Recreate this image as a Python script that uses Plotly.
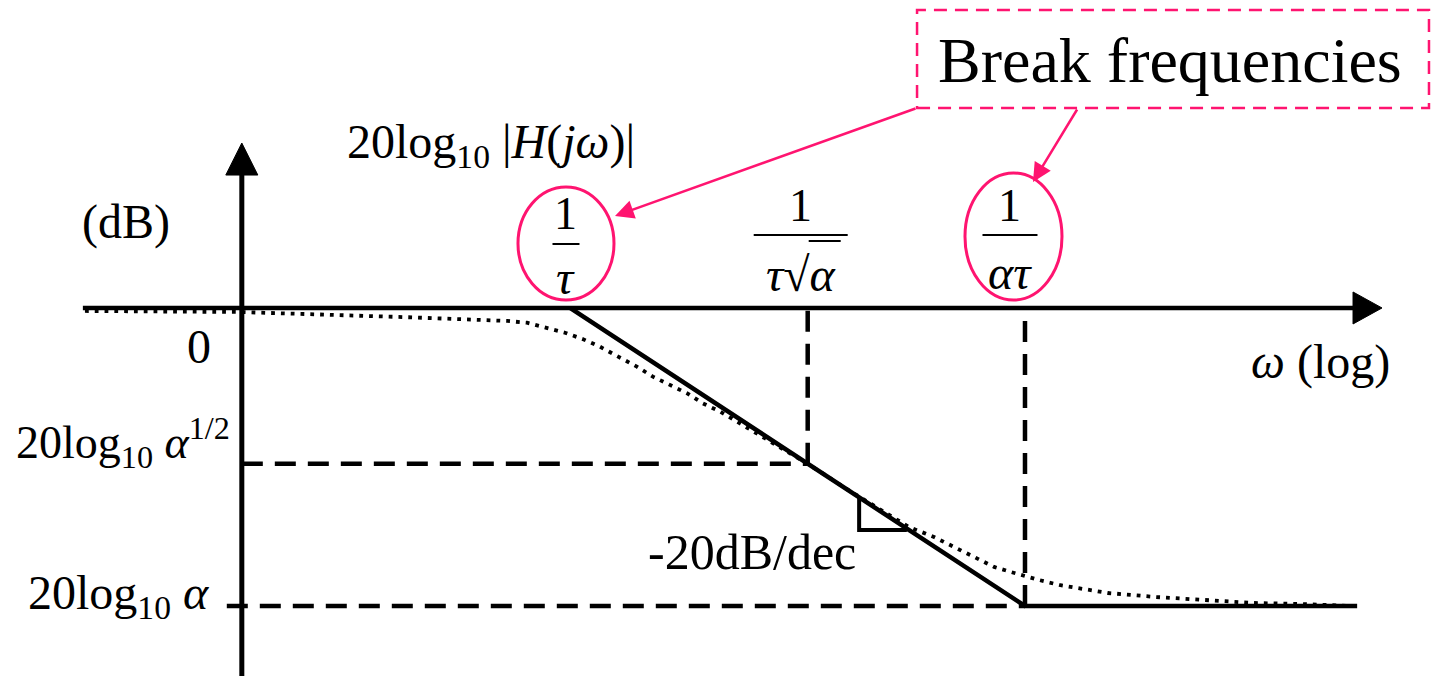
import numpy as np
import plotly.graph_objects as go

# ---------------- data (ω normalised so that 1/τ = 1) ----------------
# break frequencies 1/τ, 1/(τ√α), 1/(ατ) and the asymptote level at each
break_omega = [1.0, 3.33, 10.0]
break_db = [0.0, -10.45, -20.0]
break_labels = ["<i>τ</i>", "<i>τ</i>√<i>α</i>", "<i>ατ</i>"]

# straight-line (asymptotic) magnitude
asym_omega = [1.0, 10.0, 53.7]
asym_db = [0.0, -20.0, -20.0]

# actual magnitude response
curve_omega = [0.0859, 0.188, 0.438, 0.537, 0.644, 0.728, 0.804, 0.889, 0.975,
               1.069, 1.164, 1.268, 1.403, 1.521, 1.660, 1.807, 1.959, 2.138,
               2.328, 2.754, 3.334, 4.121, 5.559, 6.310, 6.982, 7.568, 8.551,
               9.311, 9.795, 10.74, 11.89, 13.40, 15.21, 17.18, 19.41, 24.89,
               31.70, 40.64, 52.00]
curve_db = [-0.20, -0.27, -0.62, -0.72, -0.81, -0.87, -0.99, -1.32, -1.66,
            -2.10, -2.60, -3.22, -3.94, -4.61, -5.17, -5.72, -6.40, -6.96,
            -7.63, -8.93, -10.47, -12.28, -14.70, -15.37, -16.04, -16.58, -17.38,
            -17.72, -17.92, -18.26, -18.59, -18.86, -19.13, -19.26, -19.40, -19.60,
            -19.80, -19.87, -20.00]

# -20 dB/dec slope marker
slope_omega = [4.32, 4.32, 5.50]
slope_db = [-12.70, -14.90, -14.90]

# axis extents
xaxis_start_omega = 0.085
xaxis_tip_omega = 60.9
yaxis_omega = 0.19
yaxis_tip_db = 11.07

# ---------------- styling ----------------
FONT = "Liberation Serif, Times New Roman, serif"
PINK = "#FF1470"
BLACK = "black"
X_RANGE = [-1.2527, 1.8989]   # log10(ω)
Y_RANGE = [-24.70, 20.67]     # dB
DASH = "21px,12px"

lg = np.log10
ux = float(lg(yaxis_omega))

fig = go.Figure()

# asymptote
fig.add_trace(go.Scatter(x=lg(asym_omega), y=asym_db, mode="lines",
                         line=dict(color=BLACK, width=4.5), hoverinfo="skip"))
# actual response (dotted)
fig.add_trace(go.Scatter(x=lg(curve_omega), y=curve_db, mode="lines",
                         line=dict(color=BLACK, width=3.8, dash="3.8px,6px"),
                         hoverinfo="skip"))
# slope marker
fig.add_trace(go.Scatter(x=lg(slope_omega), y=slope_db, mode="lines",
                         line=dict(color=BLACK, width=4), hoverinfo="skip"))

shapes = []

# frequency axis with arrow head
xt = float(lg(xaxis_tip_omega))
shapes.append(dict(type="line", x0=float(lg(xaxis_start_omega)), x1=xt - 0.05,
                   y0=0, y1=0, line=dict(color=BLACK, width=4.5)))
shapes.append(dict(type="path",
                   path=f"M {xt},0 L {xt - 0.0637},1.074 L {xt - 0.0637},-1.074 Z",
                   fillcolor=BLACK, line=dict(color=BLACK, width=1)))
# magnitude axis with arrow head
shapes.append(dict(type="line", x0=ux, x1=ux, y0=Y_RANGE[0], y1=yaxis_tip_db - 1.9,
                   line=dict(color=BLACK, width=5)))
shapes.append(dict(type="path",
                   path=f"M {ux},{yaxis_tip_db} L {ux - 0.0352},{yaxis_tip_db - 2.148} "
                        f"L {ux + 0.0352},{yaxis_tip_db - 2.148} Z",
                   fillcolor=BLACK, line=dict(color=BLACK, width=1)))

# dashed guides
um, ub = float(lg(break_omega[1])), float(lg(break_omega[2]))
shapes.append(dict(type="line", x0=ux, x1=um, y0=break_db[1], y1=break_db[1],
                   line=dict(color=BLACK, width=4.5, dash=DASH)))
shapes.append(dict(type="line", x0=um, x1=um, y0=break_db[1], y1=0,
                   line=dict(color=BLACK, width=4.5, dash=DASH)))
shapes.append(dict(type="line", x0=ux - 0.033, x1=ub, y0=break_db[2], y1=break_db[2],
                   line=dict(color=BLACK, width=4.5, dash=DASH)))
shapes.append(dict(type="line", x0=ub, x1=ub, y0=break_db[2], y1=0,
                   line=dict(color=BLACK, width=4.5, dash=DASH)))

annotations = []

# fraction labels above each break frequency
label_dx = [-4, -7, -15]
num_dy = [94, 102, 102]
bar_dy = [64, 73, 73]
bar_hw = [13.5, 47, 27.5]
den_dy = [30, 33, 35]
for om, lab, dx, ny, by, hw, dy in zip(break_omega, break_labels, label_dx,
                                        num_dy, bar_dy, bar_hw, den_dy):
    u = float(lg(om))
    annotations.append(dict(x=u, y=0, xshift=dx, yshift=ny, text="1", showarrow=False,
                            font=dict(family=FONT, size=46, color=BLACK)))
    annotations.append(dict(x=u, y=0, xshift=dx, yshift=dy, text=lab, showarrow=False,
                            font=dict(family=FONT, size=48, color=BLACK)))
    shapes.append(dict(type="line", xref="x", yref="y",
                       xsizemode="pixel", xanchor=u, x0=dx - hw, x1=dx + hw,
                       ysizemode="pixel", yanchor=0, y0=by, y1=by,
                       line=dict(color=BLACK, width=2)))
# radical vinculum over α
shapes.append(dict(type="line", xref="x", yref="y",
                   xsizemode="pixel", xanchor=um, x0=1, x1=33,
                   ysizemode="pixel", yanchor=0, y0=67, y1=67,
                   line=dict(color=BLACK, width=2)))

# circled break frequencies
for om, (x0, x1, y0, y1) in zip([break_omega[0], break_omega[2]],
                                [(-52, 44, 8, 121), (-60, 37, 8, 135)]):
    shapes.append(dict(type="circle", xref="x", yref="y",
                       xsizemode="pixel", xanchor=float(lg(om)), x0=x0, x1=x1,
                       ysizemode="pixel", yanchor=0, y0=y0, y1=y1,
                       line=dict(color=PINK, width=3)))

# callout box
shapes.append(dict(type="rect", xref="paper", yref="paper",
                   x0=0.6395, x1=0.9965, y0=0.8402, y1=0.9852,
                   line=dict(color=PINK, width=2.5, dash="13px,8px")))
annotations.append(dict(xref="paper", yref="paper", x=0.8159, y=0.9105,
                        xanchor="center", yanchor="middle",
                        text="Break frequencies", showarrow=False,
                        font=dict(family=FONT, size=64, color=BLACK)))
# callout arrows
for xa, ya, ax, ay in [(0.0989, 6.174, 302, -108), (1.0176, 8.456, 45, -74)]:
    annotations.append(dict(x=xa, y=ya, ax=ax, ay=ay, text="", showarrow=True,
                            arrowhead=2, arrowsize=1.5, arrowwidth=2.5,
                            arrowcolor=PINK, standoff=0))

# axis titles and level labels
tf = dict(family=FONT, size=48, color=BLACK)
annotations += [
    dict(x=-0.4945, y=10.94, xanchor="left", showarrow=False, font=tf,
         text="20log<sub>10</sub> |<i>H</i>(<i>jω</i>)|"),
    dict(x=-1.077, y=5.77, xanchor="left", showarrow=False, font=tf, text="(dB)"),
    dict(x=ux, y=0, xshift=-43, yshift=-39, showarrow=False, font=tf, text="0"),
    dict(x=ux, y=break_db[1], xanchor="right", xshift=-10, yshift=21, showarrow=False,
         font=dict(family=FONT, size=46, color=BLACK),
         text="20log<sub>10</sub> <i>α</i><sup>1/2</sup>"),
    dict(x=ux, y=break_db[2], xanchor="right", xshift=-31, yshift=10, showarrow=False,
         font=tf, text="20log<sub>10</sub> <i>α</i>"),
    dict(x=0.4011, y=-16.58, yshift=3, showarrow=False,
         font=dict(family=FONT, size=50, color=BLACK), text="-20dB/dec"),
    dict(x=1.6505, y=-3.62, showarrow=False, font=tf, text="<i>ω</i> (log)"),
]

fig.update_layout(
    width=1434, height=676, margin=dict(l=0, r=0, t=0, b=0),
    paper_bgcolor="white", plot_bgcolor="white", showlegend=False,
    xaxis=dict(range=X_RANGE, visible=False, fixedrange=True),
    yaxis=dict(range=Y_RANGE, visible=False, fixedrange=True),
    shapes=shapes, annotations=annotations,
)

fig.write_html("out.html")
